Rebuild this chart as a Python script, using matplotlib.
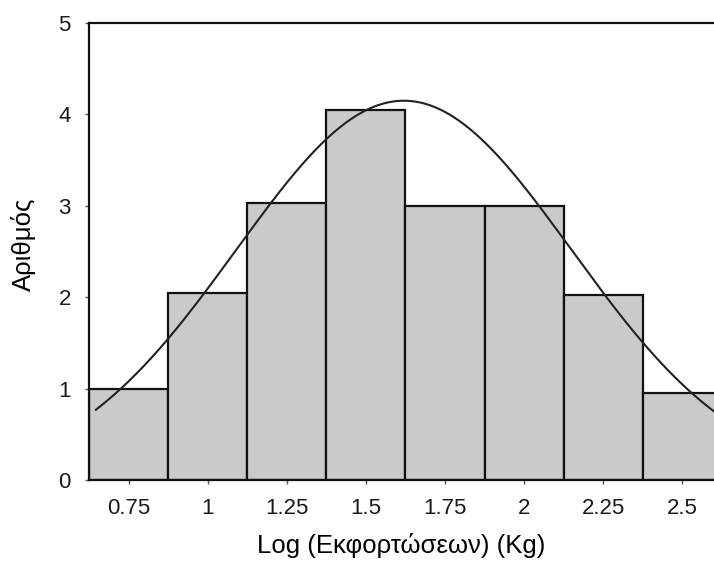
import numpy as np
import matplotlib.pyplot as plt

# --- Histogram data ---
bin_centers = [0.75, 1.0, 1.25, 1.5, 1.75, 2.0, 2.25, 2.5]
counts = [1.0, 2.05, 3.03, 4.05, 3.0, 3.0, 2.02, 0.95]
bin_width = 0.25
tick_labels = ["0.75", "1", "1.25", "1.5", "1.75", "2", "2.25", "2.5"]

# Fitted normal curve overlay
normal_mean = 1.62
normal_sd = 0.53
normal_peak = 4.15

plt.rcParams['font.family'] = ['Liberation Sans', 'DejaVu Sans']
plt.rcParams['text.color'] = '#1a1a1a'
plt.rcParams['xtick.labelcolor'] = '#1a1a1a'
plt.rcParams['ytick.labelcolor'] = '#1a1a1a'

fig = plt.figure(figsize=(7.14, 5.63), dpi=100)
ax = fig.add_axes([0.1246, 0.1474, 0.8754, 0.8117])

ax.bar(bin_centers, counts, width=bin_width, color='#cacaca',
       edgecolor='#111111', linewidth=1.6, zorder=2)

xs = np.linspace(0.647, 2.6, 300)
curve = normal_peak * np.exp(-0.5 * ((xs - normal_mean) / normal_sd) ** 2)
ax.plot(xs, curve, color='#222222', linewidth=1.5, zorder=3)

ax.set_xlim(0.625, 2.6)
ax.set_ylim(0, 5)
ax.set_xticks(bin_centers)
ax.set_xticklabels(tick_labels)
ax.set_yticks(range(0, 6))

ax.spines['right'].set_visible(False)
for side in ['left', 'top', 'bottom']:
    ax.spines[side].set_linewidth(1.6)
    ax.spines[side].set_color('#111111')

ax.tick_params(axis='both', labelsize=16, length=3, width=1, color='#555555')
ax.tick_params(axis='x', pad=10)
ax.tick_params(axis='y', pad=10)

ax.set_xlabel('Log (Εκφορτώσεων) (Kg)', fontsize=18.5, labelpad=10)
ax.set_ylabel('Αριθμός', fontsize=18.5)
ax.yaxis.set_label_coords(-0.085, 0.515)

fig.savefig('out.png', dpi=100)
